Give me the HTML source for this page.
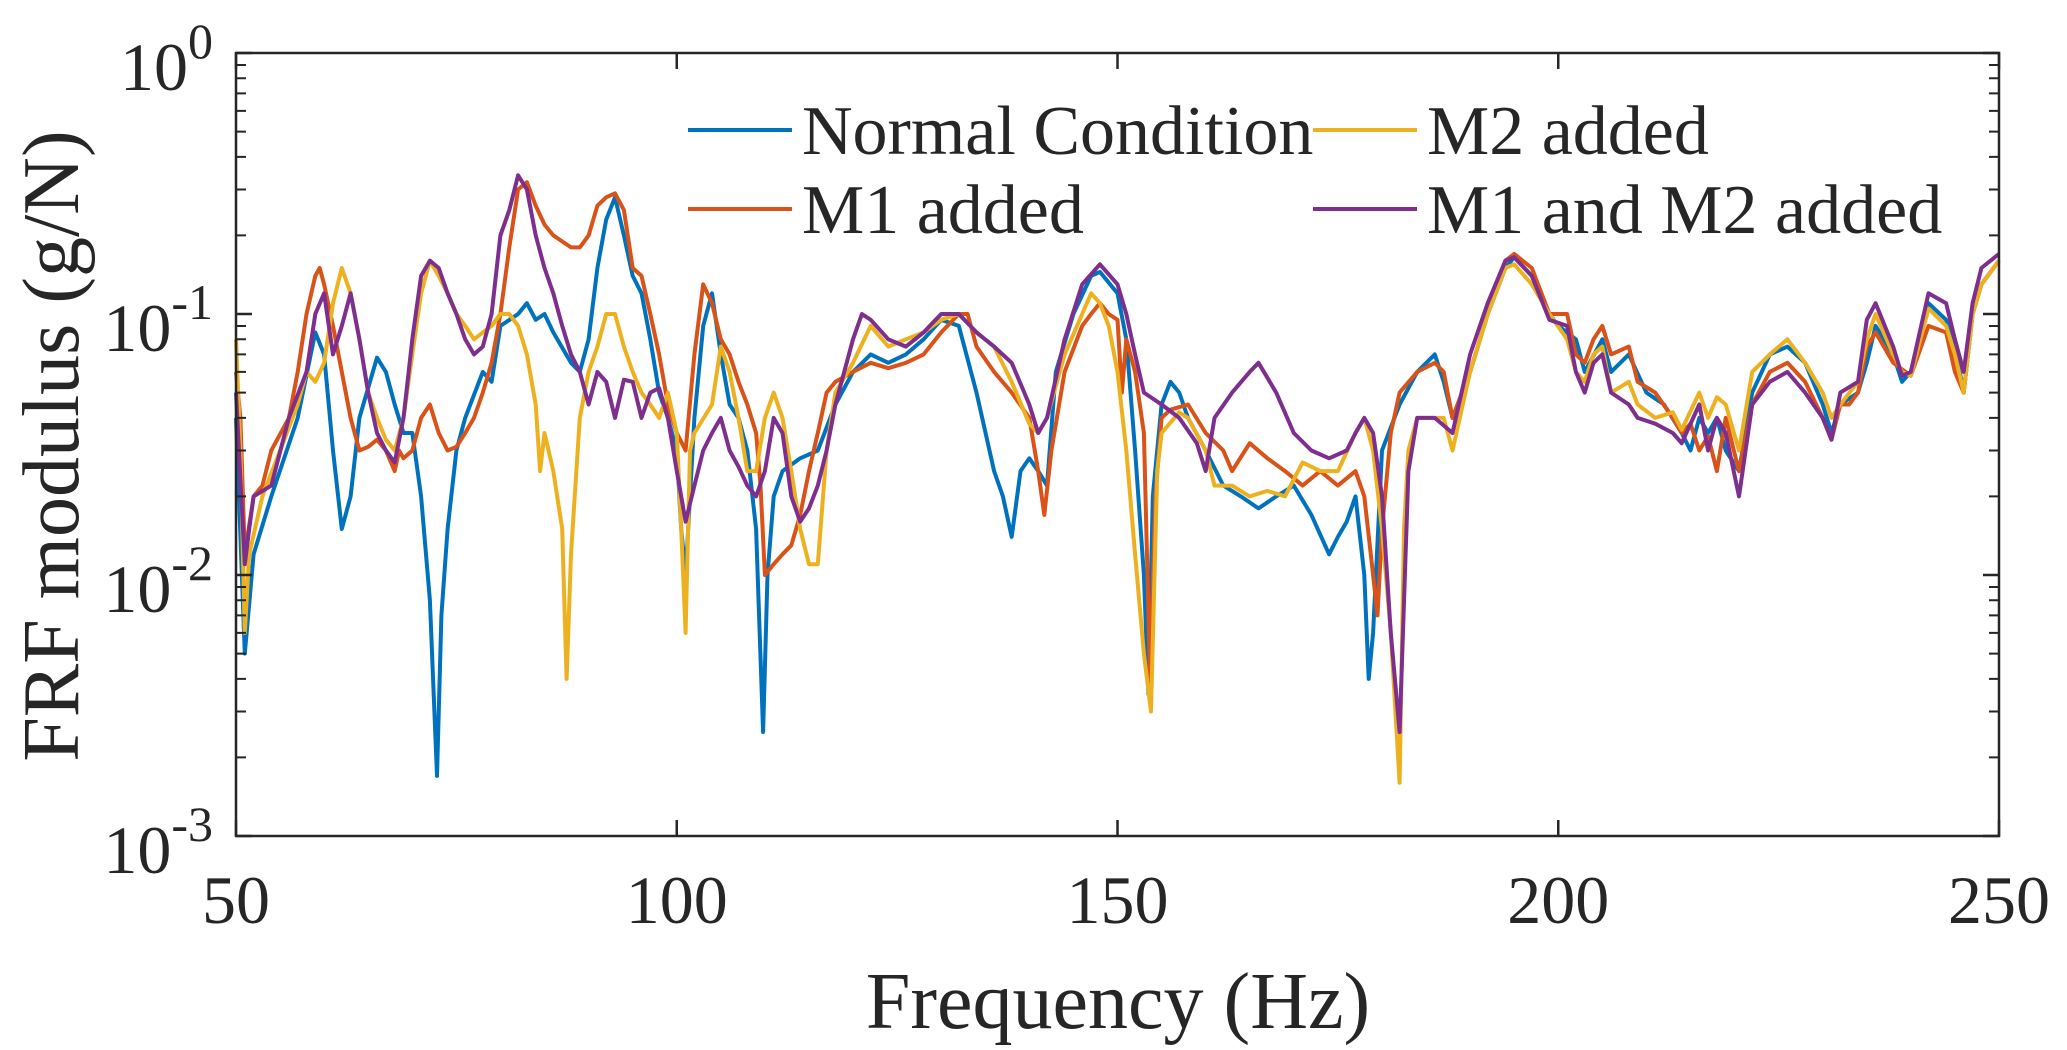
<!DOCTYPE html>
<html><head><meta charset="utf-8">
<style>
html,body{margin:0;padding:0;background:#fff;}
svg{display:block;}
text{font-family:"Liberation Serif","Times New Roman",serif;fill:#262626;}
</style></head>
<body>
<svg id="chart" width="2067" height="1050" viewBox="0 0 2067 1050" xmlns="http://www.w3.org/2000/svg">
<rect x="0" y="0" width="2067" height="1050" fill="#fff"/>
<g id="grid"></g>
<g id="series"></g>
<g id="axes"></g>
<g id="legend"></g>
</svg>
<script>
const xTicks = [50, 100, 150, 200, 250];
const yDecades = [0, -1, -2, -3];
const seriesNames = ["Normal Condition", "M1 added", "M2 added", "M1 and M2 added"];
const seriesColors = ["#0072BD", "#D95319", "#EDB120", "#7E2F8E"];

const normalF = [50,51,52,54,57,59,60,61,62,63,64,66,67,68,69,70,71,72,72.8,73.3,74,75,76,78,79,80,82,83,84,85,86,88,89,90,91,92,93,94,95,96,97,98,99,100,100.5,101,102,103,104,105,106,107,108,109,109.8,110.3,111,112,114,116,118,120,122,124,126,128,130,132,134,136,137,138,139,140,141,142,143,145,147,148,150,151,152,153,153.5,154,155,156,157,158,160,162,164,166,168,170,172,174,175,176,177,178,178.5,179,180,182,184,186,187,188,190,192,194,195,197,199,200,202,203,205,206,208,210,212,214,215,216,217,218,219,220.5,222,224,226,228,230,231,232,234,235,236,238,239,240,242,244,245,246,247,248,250];
const normalV = [0.04,0.005,0.012,0.02,0.04,0.085,0.07,0.03,0.015,0.02,0.04,0.068,0.06,0.045,0.035,0.035,0.02,0.008,0.0017,0.007,0.015,0.03,0.04,0.06,0.055,0.09,0.1,0.11,0.095,0.1,0.085,0.065,0.06,0.08,0.15,0.23,0.28,0.2,0.14,0.12,0.08,0.05,0.04,0.03,0.015,0.01,0.04,0.09,0.12,0.07,0.045,0.04,0.03,0.015,0.0025,0.01,0.02,0.025,0.028,0.03,0.045,0.06,0.07,0.065,0.07,0.08,0.095,0.09,0.05,0.025,0.02,0.014,0.025,0.028,0.025,0.022,0.06,0.1,0.14,0.145,0.12,0.08,0.03,0.01,0.0035,0.02,0.045,0.055,0.05,0.04,0.03,0.022,0.02,0.018,0.02,0.022,0.017,0.012,0.014,0.016,0.02,0.01,0.004,0.006,0.03,0.045,0.06,0.07,0.055,0.04,0.06,0.1,0.15,0.165,0.14,0.1,0.09,0.08,0.06,0.08,0.06,0.07,0.05,0.045,0.035,0.03,0.04,0.035,0.04,0.03,0.025,0.05,0.07,0.075,0.065,0.045,0.035,0.045,0.05,0.065,0.09,0.07,0.055,0.06,0.11,0.095,0.075,0.05,0.1,0.13,0.16];

const m1F = [50,50.5,51,52,53,54,56,57,58,59,59.5,60,61,62,63,64,65,66,67,68,68.5,69,70,71,72,73,74,75,76,77,78,79,80,81,82,83,84,85,86,88,89,90,91,92,93,94,95,96,97,98,99,100,101,102,103,104,105,106,107,108,109,109.5,110,111,112,113,114,115,116,117,118,120,122,124,126,128,130,132,133,134,136,138,140,141,141.7,142.5,144,146,147,148,149,150,150.5,151,152,153,153.7,154.3,155,156,158,160,162,163,165,167,169,171,173,175,177,178,179,179.5,180,181,182,184,186,187,188,190,192,194,195,197,199,201,202,203,204,205,206,208,209,211,213,214,215,216,217,218,219,220.5,222,224,226,228,230,231,232,233,234,235,236,238,240,242,244,245,246,247,248,250];
const m1V = [0.06,0.04,0.012,0.02,0.022,0.03,0.04,0.06,0.1,0.14,0.15,0.13,0.09,0.06,0.04,0.03,0.031,0.033,0.03,0.025,0.03,0.028,0.03,0.04,0.045,0.035,0.03,0.031,0.035,0.04,0.05,0.065,0.1,0.18,0.3,0.32,0.26,0.22,0.2,0.18,0.18,0.2,0.26,0.28,0.29,0.25,0.15,0.14,0.1,0.07,0.045,0.035,0.03,0.07,0.13,0.11,0.08,0.07,0.055,0.045,0.035,0.022,0.01,0.011,0.012,0.013,0.017,0.025,0.035,0.05,0.055,0.06,0.065,0.062,0.065,0.07,0.085,0.1,0.1,0.075,0.06,0.05,0.04,0.025,0.017,0.03,0.06,0.09,0.1,0.11,0.1,0.095,0.05,0.08,0.06,0.035,0.004,0.02,0.04,0.043,0.045,0.035,0.03,0.025,0.032,0.028,0.025,0.022,0.025,0.022,0.025,0.02,0.01,0.007,0.015,0.035,0.05,0.06,0.065,0.06,0.04,0.06,0.1,0.16,0.17,0.15,0.1,0.1,0.07,0.065,0.08,0.09,0.07,0.075,0.055,0.05,0.04,0.035,0.038,0.03,0.034,0.025,0.04,0.025,0.045,0.06,0.065,0.055,0.04,0.033,0.045,0.045,0.05,0.075,0.085,0.065,0.058,0.09,0.085,0.06,0.05,0.1,0.13,0.16];

const m2F = [50,50.5,51,51.5,53,55,57,58,59,60,61,62,63,64,65,66,67,68,69,70,71,72,73,74,75,76,77,78,79,80,81,82,83,84,84.5,85,86,87,87.5,88,89,90,91,92,93,94,95,96,97,98,99,100,100.5,101,101.5,102,104,105,106,107,108,109,110,111,112,113,114,115,116,117,118,120,122,124,126,128,130,132,134,136,138,140,141,142,144,146,147,148,149,150,151,152,153,153.8,154.5,155,157,158,160,161,163,165,167,169,171,173,175,177,178,179,180,181,182,182.5,183,184,186,187,188,190,192,194,195,197,199,201,202,203,204,205,206,208,209,211,213,214,216,217,218,219,220.5,222,224,226,228,230,231,232,234,235,236,238,239,240,242,244,245,246,247,248,250];
const m2V = [0.08,0.03,0.006,0.012,0.02,0.03,0.045,0.06,0.055,0.065,0.11,0.15,0.12,0.08,0.05,0.04,0.033,0.03,0.04,0.07,0.12,0.16,0.14,0.12,0.1,0.09,0.08,0.085,0.09,0.1,0.1,0.09,0.07,0.045,0.025,0.035,0.025,0.015,0.004,0.012,0.04,0.06,0.075,0.1,0.1,0.075,0.06,0.05,0.045,0.04,0.05,0.035,0.015,0.006,0.03,0.035,0.045,0.075,0.06,0.04,0.025,0.025,0.04,0.05,0.04,0.025,0.015,0.011,0.011,0.03,0.05,0.065,0.09,0.075,0.08,0.085,0.095,0.1,0.085,0.075,0.055,0.038,0.035,0.04,0.07,0.1,0.12,0.11,0.09,0.06,0.03,0.012,0.005,0.003,0.025,0.035,0.042,0.04,0.03,0.022,0.022,0.02,0.021,0.02,0.027,0.025,0.025,0.035,0.04,0.03,0.015,0.006,0.0016,0.015,0.03,0.04,0.04,0.04,0.03,0.06,0.1,0.15,0.155,0.13,0.1,0.08,0.06,0.055,0.07,0.075,0.05,0.055,0.045,0.04,0.042,0.036,0.05,0.04,0.048,0.045,0.03,0.06,0.07,0.08,0.065,0.05,0.04,0.045,0.055,0.08,0.1,0.07,0.06,0.058,0.105,0.09,0.07,0.05,0.1,0.13,0.16];

const m12F = [50,51,51.5,52,54,56,58,59,60,61,62,63,64,65,66,67,68,69,70,71,72,73,74,75,76,77,78,79,80,81,82,83,84,85,86,87,88,89,90,91,92,93,94,95,96,97,98,99,100,101,102,103,104,105,106,107,108,109,110,111,112,113,114,115,116,117,118,120,121,122,124,126,128,130,132,134,136,138,140,141,142,144,146,148,150,151,152,153,155,157,159,160,161,163,165,166,168,170,172,174,176,177,178,179,180,181,182,182.6,183,184,186,188,190,192,194,195,197,199,201,202,203,204,205,206,208,209,211,213,214,216,217,218,219,220.5,222,224,226,228,230,231,232,234,235,236,238,239,240,242,244,245,246,247,248,250];
const m12V = [0.05,0.011,0.015,0.02,0.022,0.04,0.06,0.1,0.12,0.07,0.09,0.12,0.08,0.05,0.035,0.03,0.027,0.04,0.08,0.14,0.16,0.15,0.12,0.1,0.08,0.07,0.075,0.1,0.2,0.25,0.34,0.3,0.2,0.15,0.12,0.09,0.07,0.06,0.045,0.06,0.055,0.04,0.056,0.055,0.04,0.05,0.052,0.04,0.025,0.016,0.022,0.03,0.035,0.04,0.03,0.026,0.022,0.02,0.025,0.04,0.035,0.02,0.016,0.018,0.022,0.03,0.045,0.08,0.1,0.095,0.08,0.075,0.085,0.1,0.1,0.085,0.075,0.065,0.045,0.035,0.04,0.08,0.13,0.155,0.13,0.1,0.07,0.05,0.045,0.04,0.032,0.025,0.04,0.05,0.06,0.065,0.05,0.035,0.03,0.028,0.03,0.035,0.04,0.035,0.02,0.006,0.0025,0.01,0.025,0.04,0.04,0.035,0.07,0.11,0.16,0.165,0.14,0.095,0.09,0.06,0.05,0.065,0.07,0.05,0.045,0.04,0.038,0.035,0.032,0.045,0.03,0.04,0.035,0.02,0.045,0.055,0.06,0.05,0.04,0.033,0.05,0.055,0.095,0.11,0.075,0.058,0.06,0.12,0.11,0.08,0.06,0.11,0.15,0.17];

const seriesF = [normalF, m1F, m2F, m12F];
const seriesV = [normalV, m1V, m2V, m12V];

const NS = "http://www.w3.org/2000/svg";
const L = 236, R = 1999, T = 53, B = 836;
const xMin = 50, xMax = 250, yMinExp = -3, yMaxExp = 0;
function xScale(f){ return L + (f - xMin) / (xMax - xMin) * (R - L); }
function yScale(v){ return T + (yMaxExp - Math.log10(v)) / (yMaxExp - yMinExp) * (B - T); }
function mk(tag, attrs, parent){
  const e = document.createElementNS(NS, tag);
  for (const k in attrs) e.setAttribute(k, attrs[k]);
  parent.appendChild(e); return e;
}
const series = document.getElementById('series');
const axes = document.getElementById('axes');
const legend = document.getElementById('legend');
const FONT = 'Liberation Serif, serif';

for (let s = 0; s < seriesF.length; s++) {
  const F = seriesF[s], V = seriesV[s];
  let d = '';
  for (let i = 0; i < F.length; i++) d += (i ? 'L' : 'M') + xScale(F[i]).toFixed(1) + ' ' + yScale(V[i]).toFixed(1);
  const p = mk('path', {d: d, fill: 'none', stroke: seriesColors[s], 'stroke-width': 4, 'stroke-linejoin': 'round'}, series);
  
  
}

const box = mk('rect', {x: L, y: T, width: R - L, height: B - T, fill: 'none', stroke: '#262626', 'stroke-width': 2.5}, axes);



for (const t of xTicks) {
  const x = xScale(t);
  const tk = mk('path', {d: `M${x} ${B}V${B - 16}M${x} ${T}V${T + 16}`, stroke: '#262626', 'stroke-width': 2.5}, axes);
  
  
  const lb = mk('text', {x: x, y: 923, 'text-anchor': 'middle', 'font-size': 68, 'font-family': FONT}, axes);
  lb.textContent = t;
  
  
}
for (const e of yDecades) {
  const y = yScale(Math.pow(10, e));
  const tk = mk('path', {d: `M${L} ${y}H${L + 16}M${R} ${y}H${R - 16}`, stroke: '#262626', 'stroke-width': 2.5}, axes);
  
  
  const lb = mk('text', {x: 213, y: y + 37, 'text-anchor': 'end', 'font-size': 68, 'font-family': FONT}, axes);
  
  
  const t1 = mk('tspan', {}, lb); t1.textContent = '10';
  const t2 = mk('tspan', {'font-size': 50, dy: -32}, lb); t2.textContent = String(e);
  if (e > yMinExp) {
    for (let m = 2; m <= 9; m++) {
      const ym = yScale(m * Math.pow(10, e - 1));
      const mt = mk('path', {d: `M${L} ${ym}H${L + 10}M${R} ${ym}H${R - 10}`, stroke: '#262626', 'stroke-width': 2}, axes);
      
      
    }
  }
}
const xt = mk('text', {x: 1118, y: 1028, 'text-anchor': 'middle', 'font-size': 80, 'font-family': FONT}, axes);
xt.textContent = 'Frequency (Hz)';


const yt = mk('text', {x: 0, y: 0, 'text-anchor': 'middle', 'font-size': 80, 'font-family': FONT, transform: 'translate(78 446) rotate(-90)'}, axes);
yt.textContent = 'FRF modulus (g/N)';



const legPos = [[688, 130], [688, 209], [1313, 130], [1313, 209]];
for (let s = 0; s < seriesNames.length; s++) {
  const [lx, ly] = legPos[s];
  const g = mk('g', {}, legend);
  
  
  mk('line', {x1: lx, y1: ly, x2: lx + 104, y2: ly, stroke: seriesColors[s], 'stroke-width': 4}, g);
  const tx = mk('text', {x: lx + 114, y: ly + 24, 'font-size': 70, 'font-family': FONT, fill: '#000'}, g);
  tx.textContent = seriesNames[s];
}
</script>
</body></html>
